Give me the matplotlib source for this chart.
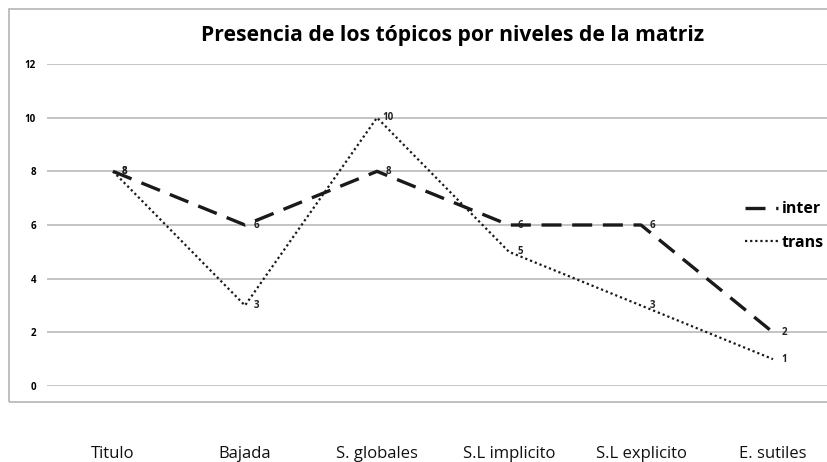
import matplotlib.pyplot as plt
from matplotlib.patches import Rectangle

# data
categories = ["Titulo", "Bajada", "S. globales", "S.L implicito", "S.L explicito", "E. sutiles"]
inter = [8, 6, 8, 6, 6, 2]
trans = [8, 3, 10, 5, 3, 1]
yticks = [0, 2, 4, 6, 8, 10, 12]
title = "Presencia de los tópicos por niveles de la matriz"

plt.rcParams["font.family"] = ["Open Sans", "DejaVu Sans"]

fig = plt.figure(figsize=(8.27, 4.62), dpi=100)

# outer chart border (runs off the right side like the reference)
fig.patches.append(Rectangle((9 / 827, 1 - 402 / 462), 1.0, 393 / 462,
                             transform=fig.transFigure, fill=False,
                             edgecolor="#b5b5b5", linewidth=1.2, zorder=0))

ax = fig.add_axes([47 / 827, 1 - 386 / 462, 792 / 827, 322 / 462])
x = list(range(len(categories)))

ax.plot(x, inter, color="#1a1a1a", linewidth=2.4, dashes=(6, 3.2),
        label="inter", solid_capstyle="butt", dash_capstyle="butt")
ax.plot(x, trans, color="#1a1a1a", linewidth=1.6, linestyle=(0, (1, 1.3)),
        label="trans")

for xi, v in zip(x, inter):
    ax.annotate(str(v), (xi, v), xytext=(8, 0), textcoords="offset points",
                fontsize=7, fontweight="bold", va="center", ha="center",
                color="#222222")
for xi, v in zip(x, trans):
    ax.annotate(str(v), (xi, v), xytext=(8, 0), textcoords="offset points",
                fontsize=7, fontweight="bold", va="center", ha="center",
                color="#222222")

ax.set_xlim(-0.5, len(categories) - 0.5)
ax.set_ylim(0, 12)
ax.set_yticks(yticks)
ax.set_yticklabels([str(t) for t in yticks], fontsize=7, fontweight="bold")
ax.set_xticks(x)
ax.set_xticklabels(categories, fontsize=12, color="#111111")
ax.tick_params(axis="x", length=0, pad=43)
ax.tick_params(axis="y", length=0, pad=8)
ax.grid(axis="y", color="#c4c4c4", linewidth=1.4)
ax.set_axisbelow(True)
for s in ax.spines.values():
    s.set_visible(False)

leg = ax.legend(loc="center left", bbox_to_anchor=(745 / 827, 1 - 226 / 462),
                bbox_transform=fig.transFigure, frameon=False,
                borderpad=0, borderaxespad=0,
                handlelength=2.05, handletextpad=0.25, labelspacing=1.1,
                prop={"size": 11.5, "weight": "bold"})

fig.text(453 / 827, 1 - 35 / 462, title, ha="center", va="center",
         fontsize=15.2, fontweight="bold")

fig.savefig("out.png", dpi=100)
